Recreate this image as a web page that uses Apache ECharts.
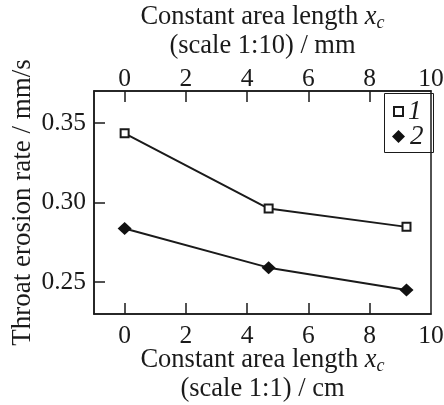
<!DOCTYPE html>
<html><head><meta charset="utf-8">
<script src="https://cdn.jsdelivr.net/npm/echarts@6/dist/echarts.min.js"></script>
<style>html,body{margin:0;padding:0;background:#fff}#c{width:444px;height:405px}</style>
</head><body><div id="c"></div>
<script>
const xValues = [0, 4.7, 9.2];
const series1 = [0.3434, 0.2962, 0.2847];
const series2 = [0.2837, 0.2591, 0.2450];
const xTickLabels = [0, 2, 4, 6, 8, 10];
const xTickMarks = [0, 2, 4, 6, 8];
const yTickLabels = [0.25, 0.30, 0.35];
const seriesNames = ['1', '2'];

const FONT = 'Liberation Serif';
const INK = '#1a1a1a';
const tickFs = 25.5, titleFs = 26.5;
function richT(lh) {
  return {
    t: {fontFamily: FONT, fontSize: titleFs, color: INK, lineHeight: lh},
    i: {fontFamily: FONT, fontSize: titleFs, fontStyle: 'italic', color: INK, lineHeight: lh},
    s: {fontFamily: FONT, fontSize: 18, fontStyle: 'italic', color: INK, lineHeight: lh, padding: [12, 0, 0, 0]}
  };
}
function xAxisCfg(pos, nameLine2, gap, lh, margin) {
  return {
    type: 'value', position: pos, min: -1, max: 10,
    axisLine: {show: true, onZero: false, lineStyle: {color: INK, width: 1.5}},
    axisTick: {show: true, inside: true, length: 11, customValues: xTickMarks, lineStyle: {color: INK, width: 1.5}},
    axisLabel: {show: true, customValues: xTickLabels, fontFamily: FONT, fontSize: tickFs, color: INK, margin: margin},
    splitLine: {show: false},
    name: '{t|Constant area length }{i|x}{s|c}\n{t|' + nameLine2 + '}',
    nameLocation: 'middle', nameGap: gap, nameMoveOverlap: false,
    nameTextStyle: {rich: richT(lh), lineHeight: lh, fontFamily: FONT, fontSize: titleFs}
  };
}
const legendText = {fontFamily: FONT, fontSize: 27, fontStyle: 'italic', color: INK, lineHeight: 20};
const chart = echarts.init(document.getElementById('c'), null, {renderer: 'canvas'});
chart.setOption({
  animation: false,
  backgroundColor: '#fff',
  grid: {left: 94, right: 13, top: 91, bottom: 91, show: true, borderColor: INK, borderWidth: 1.5,
         containLabel: false, outerBoundsMode: 'none'},
  xAxis: [xAxisCfg('bottom', '(scale 1:1) / cm', 32, 29, 9), xAxisCfg('top', '(scale 1:10) / mm', 30, 29, -1)],
  yAxis: {
    type: 'value', min: 0.23, max: 0.37, splitNumber: 3,
    axisLine: {show: true, onZero: false, lineStyle: {color: INK, width: 1.5}},
    axisTick: {show: true, inside: true, length: 11, lineStyle: {color: INK, width: 1.5}},
    axisLabel: {show: true, showMinLabel: false, showMaxLabel: false,
                formatter: v => (yTickLabels.some(t => Math.abs(t - v) < 1e-6) ? v.toFixed(2) : ''),
                fontFamily: FONT, fontSize: tickFs, color: INK, margin: 8},
    splitLine: {show: false},
    name: 'Throat erosion rate / mm/s', nameLocation: 'middle', nameGap: 58, nameMoveOverlap: false,
    nameTextStyle: {fontFamily: FONT, fontSize: 27, color: INK}
  },
  legend: [
    {left: 393, top: 98, padding: 0, itemWidth: 9, itemHeight: 9, textStyle: legendText,
     data: [{name: seriesNames[0], icon: 'rect'}]},
    {left: 392, top: 123, padding: 0, itemWidth: 13, itemHeight: 13, textStyle: legendText,
     data: [{name: seriesNames[1], icon: 'diamond'}]}
  ],
  graphic: [{type: 'rect', left: 382, top: 91, shape: {width: 49, height: 59}, style: {fill: null, stroke: INK, lineWidth: 1}, z: 10}],
  series: [
    {name: seriesNames[0], type: 'line', data: xValues.map((x, i) => [x, series1[i]]),
     symbol: 'rect', symbolSize: 8,
     itemStyle: {color: '#fff', borderColor: INK, borderWidth: 2},
     lineStyle: {color: INK, width: 2}},
    {name: seriesNames[1], type: 'line', data: xValues.map((x, i) => [x, series2[i]]),
     symbol: 'diamond', symbolSize: [14, 13],
     itemStyle: {color: '#111', borderColor: '#111', borderWidth: 0},
     lineStyle: {color: INK, width: 2}}
  ]
});
</script></body></html>
